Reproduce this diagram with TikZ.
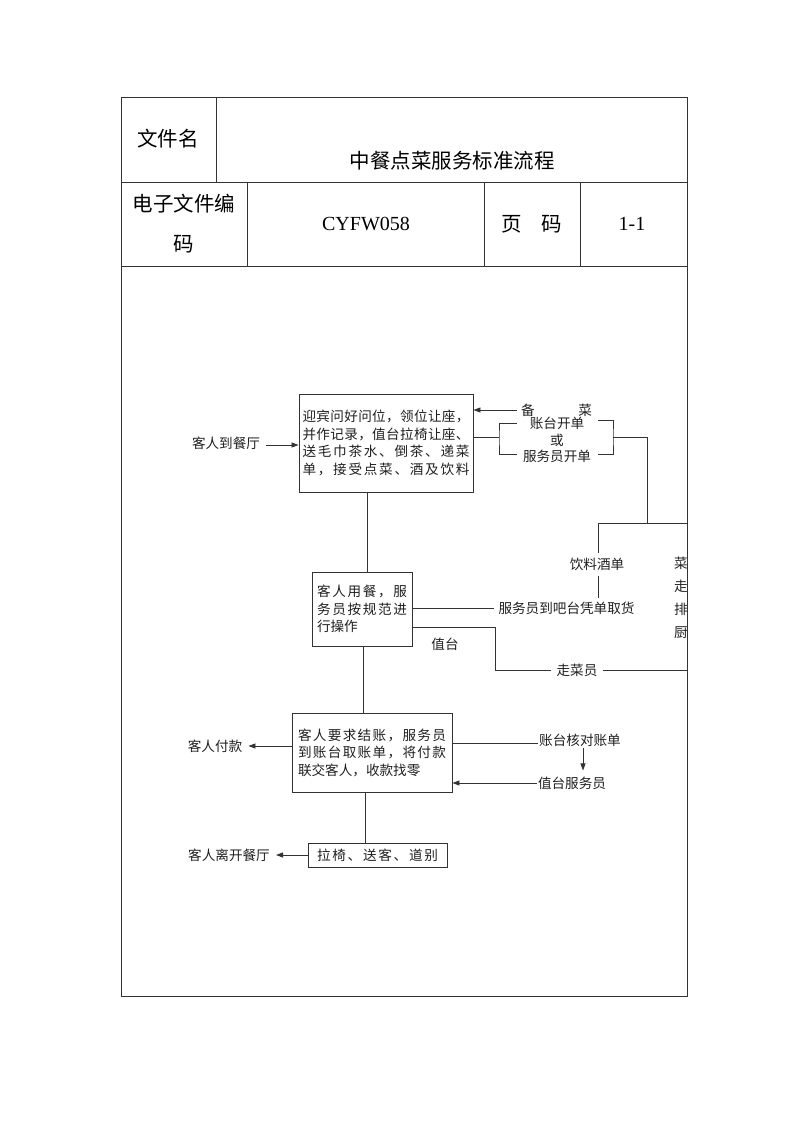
\documentclass[tikz,border=0pt]{standalone}
\usepackage{fontspec}
\setmainfont{Liberation Serif}
\newfontfamily\cjk{Noto Sans CJK SC}
\usetikzlibrary{arrows.meta}
\ExplSyntaxOn
\NewDocumentCommand\spreadto{m m}{\makebox[#1][s]{\tl_map_inline:nn{#2}{##1\hskip 0pt plus 1fil}\unskip}}
\ExplSyntaxOff
\newcommand\dtext{\cjk\fontsize{13.6}{17.5}\selectfont}
\newcommand\htext{\cjk\fontsize{20.5}{25}\selectfont}
\definecolor{linec}{gray}{0.2}
\definecolor{txtc}{gray}{0.12}
\begin{document}
\begin{tikzpicture}[x=1pt,y=-1pt,
  tline/.style={draw=linec,line width=0.9pt},
  box/.style={draw=linec,line width=0.9pt,inner sep=0pt,font=\dtext,text=txtc,align=center},
  lab/.style={inner sep=1pt,font=\dtext,text=txtc},
  conn/.style={draw=linec,line width=0.8pt},
  arr/.style={conn,-{Triangle[length=7pt,width=5pt]}},
  htx/.style={inner sep=0pt,font=\htext}]
\useasboundingbox (0,0) rectangle (800,1132);
% table
\draw[tline] (121,97) rectangle (687,996);
\draw[tline] (121,182) -- (687,182);
\draw[tline] (121,266) -- (687,266);
\draw[tline] (216,97) -- (216,182);
\draw[tline] (247,182) -- (247,266);
\draw[tline] (484,182) -- (484,266);
\draw[tline] (580,182) -- (580,266);
\node[htx] (fname) at (168,139) {文件名};
\node[htx] (title) at (452,161) {中餐点菜服务标准流程};
\node[htx,align=center,font=\cjk\fontsize{20.5}{40}\selectfont] (ecode) at (184,224) {电子文件编\\码};
\node[inner sep=0pt,font=\fontsize{20}{24}\selectfont] (code) at (366,224) {CYFW058};
\node[htx] (page) at (532,224) {\spreadto{61pt}{页码}};
\node[inner sep=0pt,font=\fontsize{20}{24}\selectfont] (pnum) at (632,224) {1-1};

% boxes
\node[box,minimum width=174pt,minimum height=98pt] (b1) at (386,443)
  {\spreadto{167pt}{迎宾问好问位，领位让座，}\\\spreadto{167pt}{并作记录，值台拉椅让座、}\\\spreadto{167pt}{送毛巾茶水、倒茶、递菜}\\\spreadto{167pt}{单，接受点菜、酒及饮料}};
\node[box,minimum width=100pt,minimum height=74pt] (b2) at (362,609)
  {\spreadto{90pt}{客人用餐，服}\\\spreadto{90pt}{务员按规范进}\\\makebox[90pt][l]{行操作}};
\node[box,minimum width=160pt,minimum height=79pt] (b3) at (372,752.5)
  {\spreadto{148pt}{客人要求结账，服务员}\\\spreadto{148pt}{到账台取账单，将付款}\\\makebox[148pt][l]{联交客人，收款找零}};
\node[box,minimum width=139pt,minimum height=24pt] (b4) at (377.5,855)
  {\spreadto{121pt}{拉椅、送客、道别}};

% labels
\node[lab] (arrive) at (226,443) {客人到餐厅};
\node[lab] (bei) at (556.5,410) {\spreadto{71pt}{备菜}};
\node[lab] (zt) at (557,423) {账台开单};
\node[lab] (huo) at (557,440) {或};
\node[lab] (fw) at (557,456) {服务员开单};
\node[lab,inner ysep=5pt] (yl) at (597,564) {饮料酒单};
\node[lab,inner ysep=3pt,inner xsep=4pt] (bar) at (566.5,608) {服务员到吧台凭单取货};
\node[lab,inner xsep=5pt] (zc) at (577,670) {走菜员};
\node[lab] (zhitai) at (445,644) {值台};
\node[lab] (pay) at (215,746) {客人付款};
\node[lab] (leave) at (229,855) {客人离开餐厅};
\node[lab] (hd) at (580,740) {账台核对账单};
\node[lab] (vs) at (572,783) {值台服务员};
\begin{scope}
\clip (121,97) rectangle (686.3,996);
\node[lab,align=center,font=\cjk\fontsize{13.6}{22.8}\selectfont] (side) at (681,598) {菜\\走\\排\\厨};
\end{scope}

% coordinates
\coordinate (lbr) at (499,437);
\coordinate (lbt) at (517,423);
\coordinate (lbb) at (517,454);
\coordinate (rbt) at (598,420);
\coordinate (rbb) at (598,454);
\coordinate (rbm) at (613,437);
\coordinate (j1) at (647,523);
\coordinate (j2) at (598,523);
\coordinate (edge1) at (687,523);
\coordinate (c1) at (495,627);
\coordinate (vx1) at (367,0);
\coordinate (vx2) at (363,0);
\coordinate (vx3) at (365,0);
\coordinate (vx4) at (583,0);

% connectors
\draw[arr] (arrive.east) ++(5,2) -- (b1.west |- 0,445);
\draw[arr] (bei.west) ++(-3,0) -- (b1.east |- bei.west);
\draw[conn] (b1.east |- lbr) -- (lbr);
\draw[conn] (lbt) -| (lbr) |- (lbb);
\draw[conn] (rbt) -| (rbm) |- (rbb);
\draw[conn] (rbm) -| (j1);
\draw[conn] (j2) -- (edge1);
\draw[conn] (yl.north -| j2) -- (j2);
\draw[conn] (yl.south -| j2) -- (j2 |- bar.north);
\draw[conn] (b2.east |- bar.west) -- (bar.west);
\draw[conn] (b2.east |- c1) -- (c1) |- (zc.west);
\draw[conn] (zc.east) -- (zc.east -| edge1);
\draw[conn] (b1.south -| vx1) -- (b2.north -| vx1);
\draw[conn] (b2.south -| vx2) -- (b3.north -| vx2);
\draw[conn] (b3.south -| vx3) -- (b4.north -| vx3);
\draw[arr,shorten >=5pt] (b3.west |- pay.east) -- (pay.east);
\draw[arr,shorten >=5pt] (b4.west) -- (leave.east);
\draw[conn] (b3.east |- 0,743) -- (hd.west |- 0,743);
\draw[arr,shorten >=5pt] (hd.south -| vx4) -- (vs.north -| vx4);
\draw[arr] (vs.west) -- (b3.east |- vs.west);
\end{tikzpicture}
\end{document}
